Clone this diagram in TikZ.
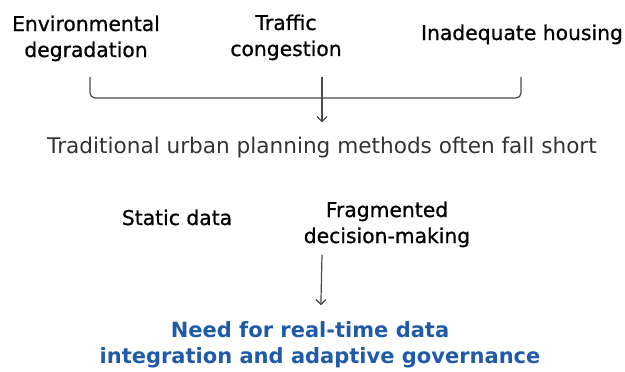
\documentclass[tikz,border=0pt]{standalone}
\usepackage{fontspec}
\setmainfont{DejaVu Sans}
\newfontfamily\mediumfont[FakeBold=0.8]{DejaVu Sans}
\usepackage{tikz}
\usetikzlibrary{arrows.meta, positioning}
\definecolor{needblue}{HTML}{1F5BA8}
\definecolor{linegray}{HTML}{4A4A4A}

\begin{document}
\begin{tikzpicture}
[x=1pt, y=-1pt,
baseshape/.style={inner sep=0pt, anchor=base, align=center, font=\fontsize{20.3}{26}\selectfont},
issue/.style={baseshape, text=black, font=\fontsize{20.3}{26}\selectfont\mediumfont},
gap/.style={baseshape, text=black!80, font=\fontsize{21.6}{26}\selectfont},
need/.style={baseshape, text=needblue, font=\fontsize{21}{25.5}\selectfont\bfseries},
arrow/.style={linegray, line width=1.2pt, -{Straight Barb[length=5pt,width=10pt]}},
bracket/.style={linegray, line width=1.2pt, rounded corners=5pt}]
\useasboundingbox (0,0) rectangle (625,372);
% problems (base anchor sits on the last line)
\node (env) [issue] at (86,57) {Environmental\\degradation};
\node (traffic) [issue] at (286,56) {Traffic\\congestion};
\node (housing) [issue] at (522,40) {Inadequate housing};
\node (trad) [gap] at (322,153) {Traditional urban planning methods often fall short};
\node (static) [issue] at (177,225) {Static data};
\node (frag) [issue] at (387,243) {Fragmented\\decision-making};
\node (need) [need] at (320,363) {Need for real-time data\hspace*{20pt}\\integration and adaptive governance};
\coordinate (bl) at (90,77);
\coordinate (br) at (521,77);
\coordinate (a1s) at (322,77);
\coordinate (a2s) at (322,255);
\draw[bracket] (bl) -- ++(0,21) -| (br);
\draw[arrow, shorten >=14pt] (a1s) -- (trad);
\draw[arrow, shorten >=16pt] (a2s) -- (need);

\end{tikzpicture}
\end{document}
